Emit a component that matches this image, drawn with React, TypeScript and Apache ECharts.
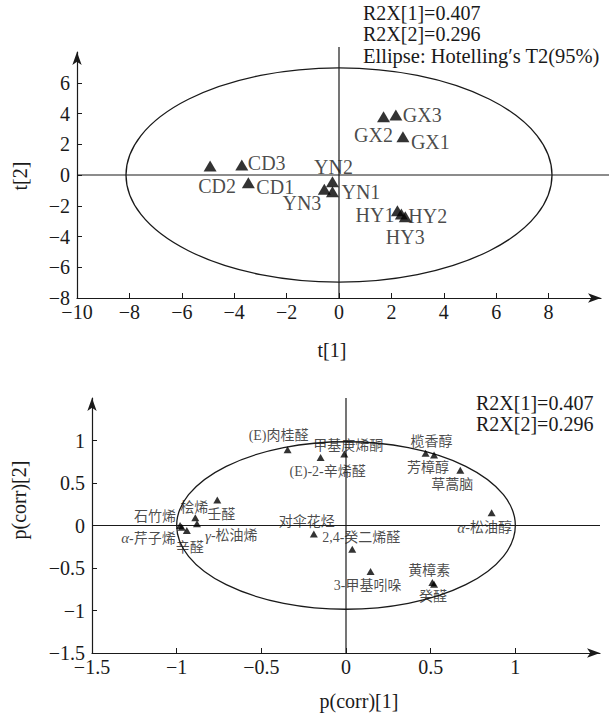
import React, { useEffect, useRef } from "react";
import * as echarts from "echarts";

// ---- Score plot (t[1] vs t[2]) ----
const scoreNames = ["CD1", "CD2", "CD3", "YN1", "YN2", "YN3", "GX1", "GX2", "GX3", "HY1", "HY2", "HY3"];
const scoreT1 = [-3.46, -4.92, -3.71, -0.25, -0.25, -0.56, 2.44, 1.7, 2.17, 2.23, 2.38, 2.53];
const scoreT2 = [-0.5, 0.59, 0.65, -1.09, -0.44, -0.93, 2.49, 3.79, 3.9, -2.32, -2.54, -2.71];
const scoreEllipse = [8.13, 6.97]; // Hotelling's T2 (95%) semi-axes
const scoreXTicks = [-10, -8, -6, -4, -2, 0, 2, 4, 6, 8];
const scoreYTicks = [-8, -6, -4, -2, 0, 2, 4, 6];
const scoreXRange = [-10, 10];
const scoreYRange = [-8, 8];

// ---- Loading plot (p(corr)[1] vs p(corr)[2]) ----
const loadNames = [
  "石竹烯", "α-芹子烯", "辛醛", "桧烯", "γ-松油烯", "壬醛",
  "(E)肉桂醛", "(E)-2-辛烯醛", "甲基庚烯酮", "榄香醇", "芳樟醇", "草蒿脑",
  "α-松油醇", "对伞花烃", "2,4-癸二烯醛", "3-甲基吲哚", "黄樟素", "癸醛",
];
const loadP1 = [-0.98, -0.97, -0.94, -0.89, -0.88, -0.76, -0.345, -0.15, -0.01, 0.47, 0.52, 0.675, 0.86, -0.19, 0.037, 0.145, 0.51, 0.52];
const loadP2 = [0.0, -0.02, -0.06, 0.09, 0.02, 0.3, 0.89, 0.8, 0.84, 0.85, 0.83, 0.65, 0.15, -0.1, -0.28, -0.54, -0.67, -0.69];
const loadEllipse = [1.0, 0.985];
const loadTicks = [-1.5, -1, -0.5, 0, 0.5, 1];
const loadRange = [-1.5, 1.5];

const r2xLines = ["R2X[1]=0.407", "R2X[2]=0.296"];
const ellipseNote = "Ellipse: Hotelling′s T2(95%)";

// label placement (style, not data)
const scorePlace: Record<string, [string, number, number]> = {
  CD1: ["left", 8, 4], CD2: ["center", 7, 20], CD3: ["left", 6, -2],
  YN1: ["left", 9, 0], YN2: ["center", 1, -15], YN3: ["right", -3, 14],
  GX1: ["left", 8, 5], GX2: ["center", -10, 18], GX3: ["left", 7, 0],
  HY1: ["right", -3, 4], HY2: ["left", 7, 2], HY3: ["center", 0, 20],
};
const loadPlace: Record<string, [string, number, number]> = {
  "石竹烯": ["right", -4, -9], "α-芹子烯": ["right", -6, 11], "辛醛": ["center", 3, 17],
  "桧烯": ["center", -1, -10], "γ-松油烯": ["left", 8, 12], "壬醛": ["center", 4, 14],
  "(E)肉桂醛": ["center", -9, -14], "(E)-2-辛烯醛": ["center", 7, 14], "甲基庚烯酮": ["center", 4, -9],
  "榄香醇": ["center", 6, -12], "芳樟醇": ["center", -6, 13], "草蒿脑": ["center", -8, 14],
  "α-松油醇": ["center", -7, 15], "对伞花烃": ["center", -7, -13], "2,4-癸二烯醛": ["center", 9, -12],
  "3-甲基吲哚": ["center", -3, 14], "黄樟素": ["center", -3, -12], "癸醛": ["center", -1, 12],
};

const SERIF = "'Liberation Serif', 'Times New Roman', serif";
const CJK = "'Liberation Serif', 'Noto Sans CJK SC', serif";
const INK = "#1a1a1a";

const minus = (v: number) => String(v).replace("-", "−");

function axisCommon(min: number, max: number, interval: number, ticks: number[], isX: boolean) {
  return {
    type: "value" as const,
    min,
    max,
    interval,
    axisLine: {
      show: true,
      onZero: false,
      symbol: ["none", "arrow"],
      symbolSize: [7, 13],
      lineStyle: { color: INK, width: 1.2 },
    },
    axisTick: { show: true, inside: true, length: 5, customValues: ticks, lineStyle: { color: INK, width: 1 } },
    axisLabel: {
      customValues: ticks,
      formatter: (v: number) => minus(v),
      fontFamily: SERIF,
      fontSize: 20,
      color: INK,
      margin: isX ? 4 : 7,
    },
    splitLine: { show: false },
  };
}

function ellipseSeries(idx: number, ab: number[], xr: number[], yr: number[]) {
  return {
    type: "custom" as const,
    xAxisIndex: idx,
    yAxisIndex: idx,
    silent: true,
    z: 1,
    data: [[ab[0], ab[1]]],
    renderItem: (_p: any, api: any) => {
      const c = api.coord([0, 0]);
      const s = api.size([api.value(0), api.value(1)]);
      const rx = s[0], ry = s[1];
      const d = `M ${c[0] - rx} ${c[1]} A ${rx} ${ry} 0 1 0 ${c[0] + rx} ${c[1]} A ${rx} ${ry} 0 1 0 ${c[0] - rx} ${c[1]} Z`;
      const l = api.coord([xr[0], 0]);
      const r = api.coord([xr[1], 0]);
      const b = api.coord([0, yr[0]]);
      const t = api.coord([0, yr[1]]);
      return {
        type: "group",
        children: [
          { type: "path", shape: { pathData: d }, style: { fill: "none", stroke: INK, lineWidth: 1.3 } },
          { type: "line", shape: { x1: l[0], y1: l[1], x2: r[0] + (idx === 0 ? 8 : 0), y2: r[1] }, style: { stroke: INK, lineWidth: 1.2 } },
          { type: "line", shape: { x1: b[0], y1: b[1], x2: t[0], y2: t[1] - (idx === 0 ? 5 : 0) }, style: { stroke: INK, lineWidth: 1.2 } },
        ],
      };
    },
  };
}

function richName(n: string) {
  if (n.startsWith("α")) return "{i|α}" + n.slice(1);
  if (n.startsWith("γ")) return "{i|γ}" + n.slice(1);
  return n;
}

export default function App() {
  const ref = useRef<HTMLDivElement>(null);
  useEffect(() => {
    if (!ref.current) return;
    const chart = echarts.init(ref.current, undefined, { renderer: "svg" });

    const scoreData = scoreNames.map((n, i) => {
      const p = scorePlace[n];
      return {
        name: n,
        value: [scoreT1[i], scoreT2[i]],
        label: { align: p[0], offset: [p[1], p[2]] },
      };
    });
    const loadData = loadNames.map((n, i) => {
      const p = loadPlace[n];
      return {
        name: n,
        value: [loadP1[i], loadP2[i]],
        label: { align: p[0], offset: [p[1], p[2]] },
      };
    });

    const textEl = (text: string, x: number, y: number, rot = 0, align = "left", size = 20) => ({
      type: "text",
      x,
      y,
      rotation: rot,
      style: {
        text,
        x: 0,
        y: 0,
        fill: INK,
        font: `${size}px ${SERIF}`,
        textAlign: align,
        textVerticalAlign: "middle",
      },
    });

    chart.setOption({
      animation: false,
      backgroundColor: "#ffffff",
      grid: [
        { left: 77, right: 10, top: 52, bottom: 422 },
        { left: 92, right: 11, top: 398, bottom: 67 },
      ],
      xAxis: [
        { gridIndex: 0, ...axisCommon(scoreXRange[0], scoreXRange[1], 2, scoreXTicks, true) },
        { gridIndex: 1, ...axisCommon(loadRange[0], loadRange[1], 0.5, loadTicks, true) },
      ],
      yAxis: [
        { gridIndex: 0, ...axisCommon(scoreYRange[0], scoreYRange[1], 2, scoreYTicks, false) },
        { gridIndex: 1, ...axisCommon(loadRange[0], loadRange[1], 0.5, loadTicks, false) },
      ],
      series: [
        ellipseSeries(0, scoreEllipse, scoreXRange, scoreYRange),
        ellipseSeries(1, loadEllipse, loadRange, loadRange),
        {
          type: "scatter",
          xAxisIndex: 0,
          yAxisIndex: 0,
          symbol: "triangle",
          symbolSize: [13, 11],
          itemStyle: { color: "#000" },
          z: 3,
          label: {
            show: true,
            position: "inside",
            formatter: "{b}",
            color: INK,
            fontFamily: SERIF,
            fontSize: 20,
            verticalAlign: "middle",
            textBorderWidth: 0,
          },
          data: scoreData,
        },
        {
          type: "scatter",
          xAxisIndex: 1,
          yAxisIndex: 1,
          symbol: "triangle",
          symbolSize: [8, 7],
          itemStyle: { color: "#000" },
          z: 3,
          label: {
            show: true,
            position: "inside",
            formatter: (p: any) => richName(p.name),
            color: INK,
            fontFamily: CJK,
            fontSize: 14,
            verticalAlign: "middle",
            textBorderWidth: 0,
            rich: { i: { fontStyle: "italic", fontFamily: SERIF, fontSize: 15, color: INK } },
          },
          data: loadData,
        },
      ],
      graphic: [
        textEl(r2xLines[0], 363, 13),
        textEl(r2xLines[1], 363, 34),
        textEl(ellipseNote, 363, 56, 0, "left", 20.5),
        textEl(r2xLines[0], 476, 403),
        textEl(r2xLines[1], 476, 424),
        textEl("t[1]", 332, 350, 0, "center"),
        textEl("t[2]", 20, 176, Math.PI / 2, "center"),
        textEl("p(corr)[1]", 359, 701, 0, "center"),
        textEl("p(corr)[2]", 19, 500, Math.PI / 2, "center"),
      ],
    });
    return () => chart.dispose();
  }, []);
  return (
    <div
      ref={ref}
      style={{ position: "absolute", left: 0, top: 0, width: 611, height: 720, background: "#fff" }}
    />
  );
}
